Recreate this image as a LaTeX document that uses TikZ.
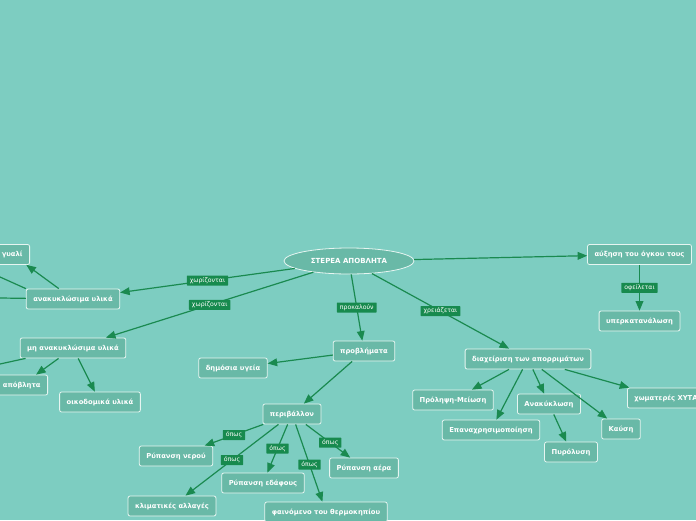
\documentclass[tikz,border=0pt]{standalone}
\usepackage{fontspec}
\setmainfont{DejaVu Sans}
\usepackage{xcolor}
\usepackage{tikz}
\usetikzlibrary{positioning}
\usetikzlibrary{shapes,arrows}
\definecolor{bgteal}{HTML}{7DCDC1}
\definecolor{nodefill}{HTML}{69B9A7}
\definecolor{nodeline}{HTML}{E6F5F1}
\definecolor{edgegreen}{HTML}{1A8A50}
\definecolor{lblgreen}{HTML}{178A4E}
\tikzset{%
  block/.style    = {draw=nodeline, fill=nodefill, rectangle, rounded corners=2pt,
    line width=0.8pt, text=white, minimum height=20pt, inner xsep=7pt,
    font=\bfseries\fontsize{6.8}{7}\selectfont}, % Concept
  root/.style     = {draw=nodeline, fill=nodefill, ellipse, line width=0.8pt,
    text=white, minimum width=130pt, minimum height=26pt,
    font=\bfseries\fontsize{7}{7}\selectfont}, % Main topic
  lbl/.style      = {fill=lblgreen, text=white, inner xsep=3pt, inner ysep=1.5pt,
    minimum height=10pt, rounded corners=0.5pt,
    font=\fontsize{6.2}{6}\selectfont}, % Link word
  link/.style     = {draw=edgegreen, line width=1.2pt}
}

\begin{document}
\begin{tikzpicture}[x=1pt, y=-1pt, >=triangle 45]

  \useasboundingbox (0,0) rectangle (696,520);
  \fill[bgteal] (0,0) rectangle (696,520);
  \clip (0,0) rectangle (696,520);

  \draw node at (349,261) [root] (waste) {ΣΤΕΡΕΑ ΑΠΟΒΛΗΤΑ};

  \draw node at (639.5,254.5) [block] (growth) {αύξηση του όγκου τους};
  \draw node at (639.5,321) [block] (overcons) {υπερκατανάλωση};

  \draw node at (364,351) [block] (problems) {προβλήματα};
  \draw node at (233,368) [block] (health) {δημόσια υγεία};
  \draw node at (292,414) [block] (environ) {περιβάλλον};
  \draw node at (176,456) [block] (water) {Ρύπανση νερού};
  \draw node at (172,506) [block] (climate) {κλιματικές αλλαγές};
  \draw node at (263,483) [block] (soil) {Ρύπανση εδάφους};
  \draw node at (364,468) [block] (air) {Ρύπανση αέρα};
  \draw node at (326,512) [block] (greenh) {φαινόμενο του θερμοκηπίου};

  \draw node at (528,359) [block] (manage) {διαχείριση των απορριμάτων};
  \draw node at (453,400) [block] (prevent) {Πρόληψη-Μείωση};
  \draw node at (491,430) [block] (reuse) {Επαναχρησιμοποίηση};
  \draw node at (549,404) [block] (recycle) {Ανακύκλωση};
  \draw node at (571,452) [block] (pyrol) {Πυρόλυση};
  \draw node at (621,429) [block] (burn) {Καύση};
  \draw node at (627,398) [block, anchor=west] (landfill) {χωματερές ΧΥΤΑ};

  \draw node at (73,299) [block] (recyc) {ανακυκλώσιμα υλικά};
  \draw node at (73,348) [block] (nonrecyc) {μη ανακυκλώσιμα υλικά};
  \draw node at (30,254.5) [block, anchor=east] (glass) {γυαλί};
  \draw node at (48,385) [block, anchor=east] (sewage) {απόβλητα};
  \draw node at (100,402) [block] (building) {οικοδομικά υλικά};

  % free ends beyond the left border
  \coordinate (offa) at (0,277);
  \coordinate (offb) at (0,298);
  \coordinate (offc) at (0,364);

  \draw[->, link] (waste) -- node [lbl] {χωρίζονται}(recyc);
  \draw[->, link] (waste) -- node [lbl, pos=0.5] {χωρίζονται}(nonrecyc);
  \draw[->, link] (waste) -- node {}(growth);
  \draw[->, link] (growth) -- node [lbl] {οφείλεται}(overcons);
  \draw[->, link] (waste) -- node [lbl, pos=0.5] {προκαλούν}(problems);
  \draw[->, link] (waste) -- node [lbl, pos=0.5] {χρειάζεται}(manage);

  \draw[->, link] (problems) -- node {}(health);
  \draw[->, link] (problems) -- node {}(environ);

  \draw[->, link] (environ) -- node [lbl, pos=0.5] {όπως}(water);
  \draw[->, link] (environ) -- node [lbl, pos=0.5] {όπως}(climate);
  \draw[->, link] (environ) -- node [lbl, pos=0.5] {όπως}(soil);
  \draw[->, link] (environ) -- node [lbl, pos=0.52] {όπως}(greenh);
  \draw[->, link] (environ) -- node [lbl, pos=0.55] {όπως}(air);

  \draw[->, link] (manage) -- node {}(prevent);
  \draw[->, link] (manage) -- node {}(reuse);
  \draw[->, link] (manage) -- node {}(recycle);
  \draw[->, link] (manage) -- node {}(burn);
  \draw[->, link] (manage) -- node {}(landfill);
  \draw[->, link] (recycle) -- node {}(pyrol);

  \draw[->, link] (recyc) -- node {}(glass);
  \draw[link] (recyc.north west) -- (offa);
  \draw[link] (recyc) -- (offb);
  \draw[link] (nonrecyc) -- (offc);
  \draw[->, link] (nonrecyc) -- node {}(sewage);
  \draw[->, link] (nonrecyc) -- node {}(building);

  \end{tikzpicture}
\end{document}
